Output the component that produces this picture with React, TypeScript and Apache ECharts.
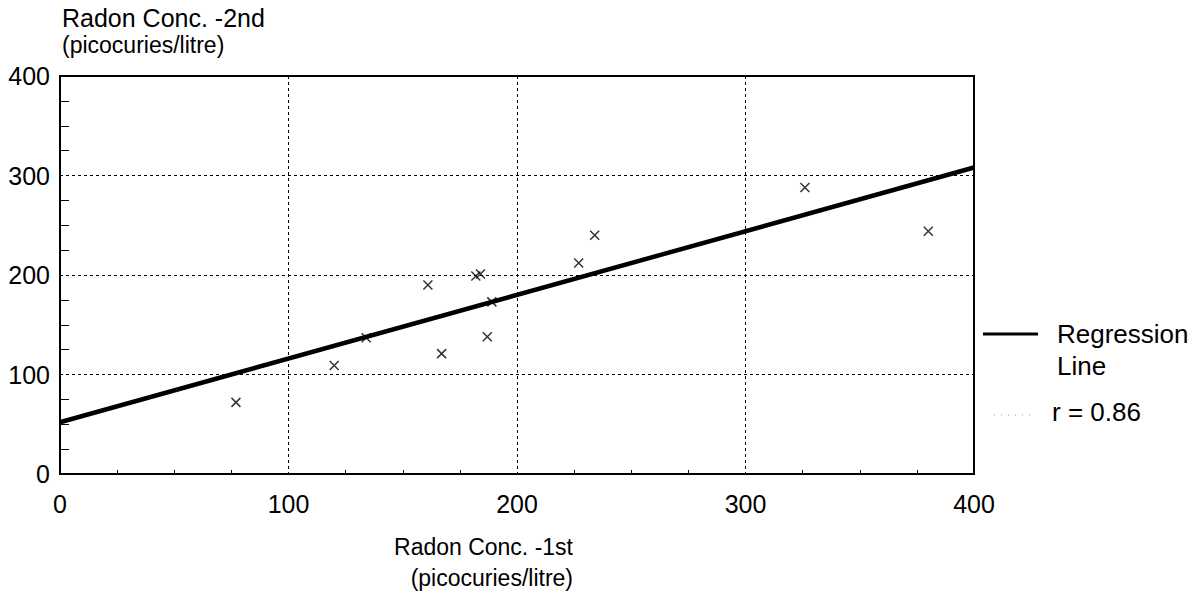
import React, { useEffect, useRef } from "react";
import * as echarts from "echarts";

const points: [number, number][] = [
  [77, 72],
  [120, 109],
  [134, 137],
  [161, 190],
  [167, 121],
  [182, 199],
  [184, 201],
  [187, 138],
  [189, 173],
  [227, 212],
  [234, 240],
  [326, 288],
  [380, 244],
];
const regression: [number, number][] = [
  [0, 52],
  [400, 308],
];
const yName = ["Radon Conc. -2nd", "(picocuries/litre)"];
const xName = ["Radon Conc. -1st", "(picocuries/litre)"];
const legendLabels = ["Regression", "Line", "r = 0.86"];

const FONT = "Liberation Sans, Arial, Helvetica, sans-serif";

export default function App() {
  const ref = useRef<HTMLDivElement>(null);
  useEffect(() => {
    if (!ref.current) return;
    const chart = echarts.init(ref.current, undefined, { renderer: "svg" });
    const axisCommon = {
      min: 0,
      max: 400,
      interval: 100,
      axisLine: { show: true, onZero: false, lineStyle: { color: "#000", width: 2 } },
      axisTick: { show: false },
      minorTick: { show: true, splitNumber: 4, length: 6, lineStyle: { color: "#000", width: 1 } },
      axisLabel: { color: "#000", fontSize: 25, fontFamily: FONT },
      splitLine: { show: true, lineStyle: { color: "#000", type: [3, 3], width: 1 } },
    };
    const txt = (text: string, x: number, y: number, fs: number, align = "left") => ({
      type: "text",
      x,
      y,
      style: { text, fontSize: fs, fontFamily: FONT, fill: "#000", align, verticalAlign: "middle" },
    });
    chart.setOption({
      animation: false,
      backgroundColor: "#fff",
      grid: { left: 60, top: 76, right: 230, bottom: 122, show: true, borderColor: "#000", borderWidth: 2, backgroundColor: "transparent" },
      xAxis: {
        type: "value",
        ...axisCommon,
        minorTick: { ...axisCommon.minorTick, length: -4 },
        axisLabel: { ...axisCommon.axisLabel, margin: 17 },
      },
      yAxis: {
        type: "value",
        ...axisCommon,
        minorTick: { ...axisCommon.minorTick, length: -9 },
        axisLabel: { ...axisCommon.axisLabel, margin: 10 },
      },
      series: [
        {
          type: "line",
          data: regression,
          symbol: "none",
          lineStyle: { color: "#000", width: 4.5 },
          z: 3,
        },
        {
          type: "scatter",
          data: points,
          symbol: "path://M0 0L10 10M10 0L0 10",
          symbolSize: 9,
          itemStyle: { color: "rgba(0,0,0,0)", borderColor: "#000", borderWidth: 1.5 },
          z: 4,
        },
      ],
      graphic: [
        txt(yName[0], 62, 18, 25),
        txt(yName[1], 62, 45, 23),
        txt(xName[0], 573, 547, 23, "right"),
        txt(xName[1], 573, 578, 23, "right"),
        { type: "line", shape: { x1: 983, y1: 334, x2: 1038, y2: 334 }, style: { stroke: "#000", lineWidth: 3 } },
        txt(legendLabels[0], 1057, 334, 26),
        txt(legendLabels[1], 1057, 366, 26),
        { type: "line", shape: { x1: 994, y1: 415, x2: 1032, y2: 415 }, style: { stroke: "#999", lineWidth: 1, lineDash: [1, 6] } },
        txt(legendLabels[2], 1052, 412, 26),
      ],
    });
    return () => chart.dispose();
  }, []);
  return <div ref={ref} style={{ position: "fixed", left: 0, top: 0, width: 1204, height: 596 }} />;
}
